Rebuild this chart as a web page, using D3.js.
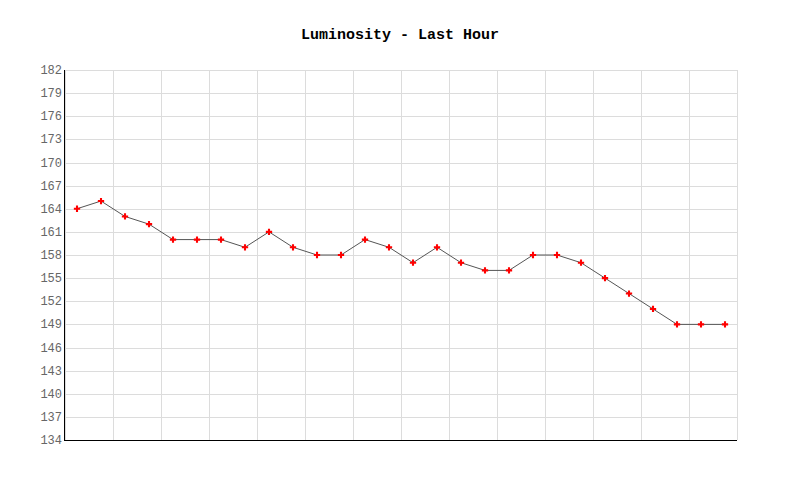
<!DOCTYPE html>
<html>
<head>
<meta charset="utf-8">
<script src="https://cdn.jsdelivr.net/npm/d3@7"></script>
<style>
  body { margin: 0; background: #fff; }
</style>
</head>
<body>
<div id="chart"></div>
<script>
// readings, one per slot over the last hour
const labels = d3.range(1, 29).map(i => "t" + i);
const luminosity = [164, 165, 163, 162, 160, 160, 160, 159, 161, 159, 158, 158, 160, 159,
                    157, 159, 157, 156, 156, 158, 158, 157, 155, 153, 151, 149, 149, 149];
const yTicks = d3.range(134, 183, 3);

const width = 800, height = 500;
const margin = { top: 70, right: 63, bottom: 60, left: 65 };

const svg = d3.select("#chart").append("svg")
    .attr("width", width)
    .attr("height", height);

const x = d3.scaleBand()
    .domain(labels)
    .range([margin.left, width - margin.right]);

const y = d3.scaleLinear()
    .domain([134, 182])
    .range([height - margin.bottom, margin.top]);

// title
svg.append("text")
    .attr("x", 400)
    .attr("y", 39)
    .attr("text-anchor", "middle")
    .style("font-family", "'Liberation Mono', 'DejaVu Sans Mono', monospace")
    .style("font-size", "15px")
    .style("font-weight", "bold")
    .text("Luminosity - Last Hour");

// horizontal grid
svg.append("g")
    .selectAll("line")
    .data(yTicks)
    .enter().append("line")
    .attr("x1", margin.left)
    .attr("x2", width - margin.right)
    .attr("y1", d => Math.round(y(d)) + 0.5)
    .attr("y2", d => Math.round(y(d)) + 0.5)
    .style("stroke", "#dcdcdc");

// vertical grid, every other slot
const vGrid = labels.filter((d, i) => i % 2 === 0).map(d => x(d)).concat([width - margin.right]);
svg.append("g")
    .selectAll("line")
    .data(vGrid)
    .enter().append("line")
    .attr("x1", d => Math.round(d) + 0.5)
    .attr("x2", d => Math.round(d) + 0.5)
    .attr("y1", margin.top)
    .attr("y2", height - margin.bottom)
    .style("stroke", "#dcdcdc");

// y axis labels
svg.append("g")
    .selectAll("text")
    .data(yTicks)
    .enter().append("text")
    .attr("x", margin.left - 3)
    .attr("y", d => y(d) + 4)
    .attr("text-anchor", "end")
    .style("font-family", "'Liberation Mono', 'DejaVu Sans Mono', monospace")
    .style("font-size", "12px")
    .style("fill", "#666")
    .text(d => d);

// axis lines
svg.append("line")
    .attr("x1", margin.left - 0.5).attr("x2", margin.left - 0.5)
    .attr("y1", margin.top).attr("y2", height - margin.bottom + 1)
    .style("stroke", "#000");
svg.append("line")
    .attr("x1", margin.left - 1).attr("x2", width - margin.right)
    .attr("y1", height - margin.bottom + 0.5).attr("y2", height - margin.bottom + 0.5)
    .style("stroke", "#000");

// data line
const line = d3.line()
    .x((d, i) => x(labels[i]) + x.bandwidth() / 2)
    .y(d => y(d));

svg.append("path")
    .datum(luminosity)
    .attr("d", line)
    .style("fill", "none")
    .style("stroke", "#555")
    .style("stroke-width", 1);

// markers
svg.append("g")
    .selectAll("path")
    .data(luminosity)
    .enter().append("path")
    .attr("transform", (d, i) => `translate(${x(labels[i]) + x.bandwidth() / 2},${y(d)})`)
    .attr("d", d3.symbol().type(d3.symbolCross).size(22))
    .style("fill", "red");
</script>
</body>
</html>
